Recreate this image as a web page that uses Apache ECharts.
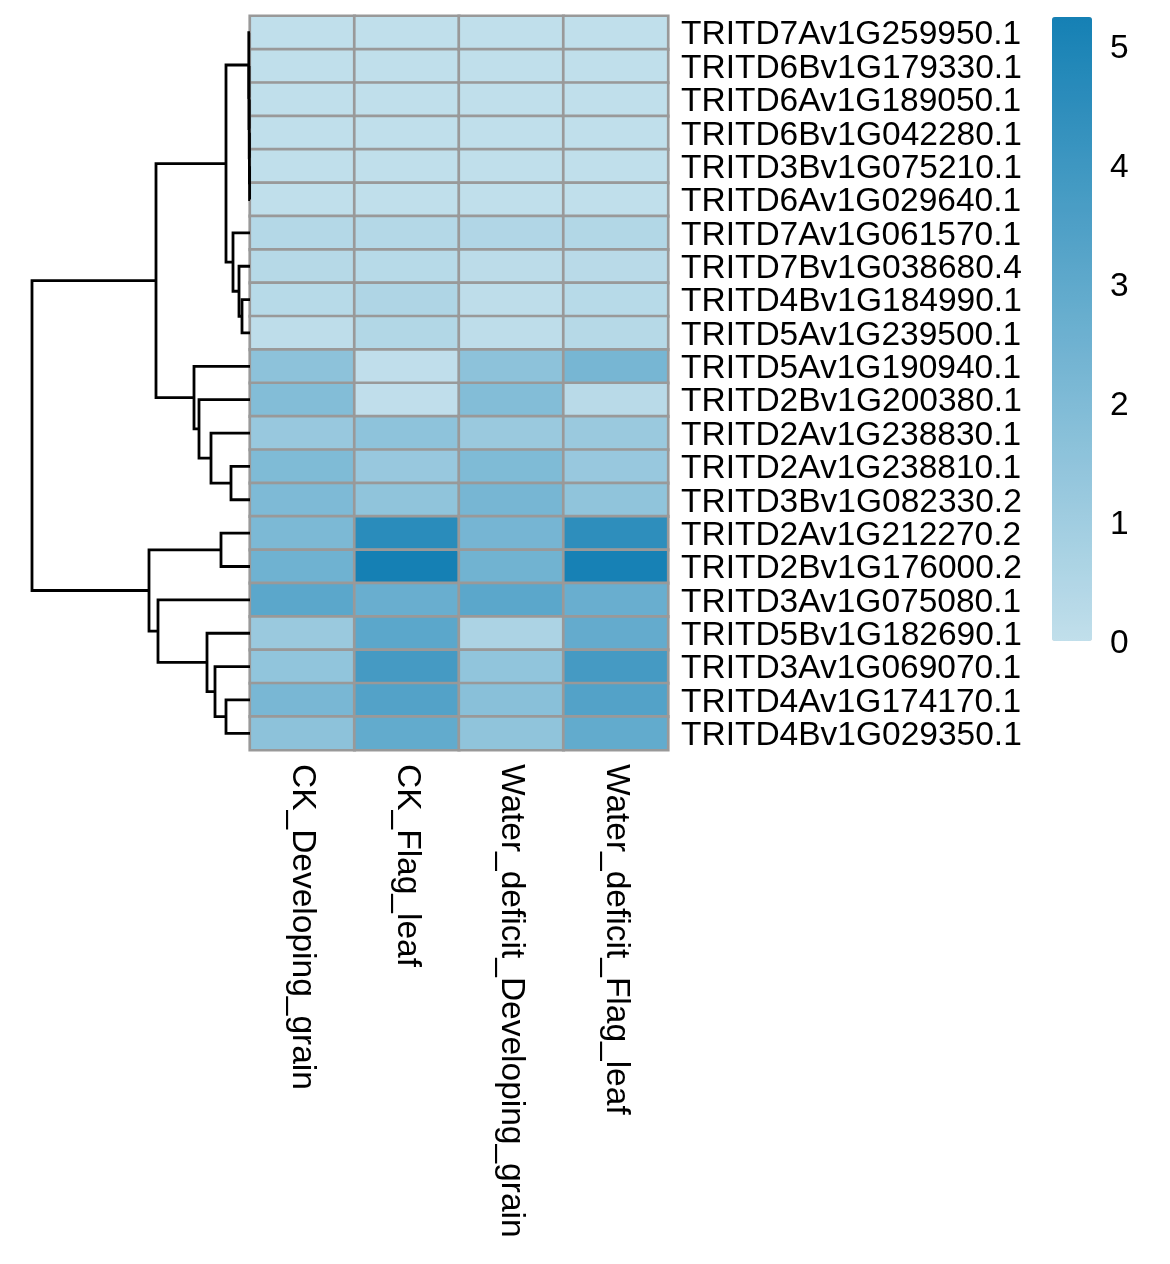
<!DOCTYPE html>
<html>
<head>
<meta charset="utf-8">
<script src="https://cdn.jsdelivr.net/npm/echarts@6/dist/echarts.min.js"></script>
<style>
html,body{margin:0;padding:0;background:#fff;}
#chart{width:1170px;height:1264px;}
</style>
</head>
<body>
<div id="chart"></div>
<script>
// ---------- data ----------
const rowNames = [
  'TRITD7Av1G259950.1','TRITD6Bv1G179330.1','TRITD6Av1G189050.1','TRITD6Bv1G042280.1',
  'TRITD3Bv1G075210.1','TRITD6Av1G029640.1','TRITD7Av1G061570.1','TRITD7Bv1G038680.4',
  'TRITD4Bv1G184990.1','TRITD5Av1G239500.1','TRITD5Av1G190940.1','TRITD2Bv1G200380.1',
  'TRITD2Av1G238830.1','TRITD2Av1G238810.1','TRITD3Bv1G082330.2','TRITD2Av1G212270.2',
  'TRITD2Bv1G176000.2','TRITD3Av1G075080.1','TRITD5Bv1G182690.1','TRITD3Av1G069070.1',
  'TRITD4Av1G174170.1','TRITD4Bv1G029350.1'
];
const colNames = ['CK_Developing_grain','CK_Flag_leaf','Water_deficit_Developing_grain','Water_deficit_Flag_leaf'];

const ckGrain = [0.02,0.02,0.02,0.02,0.02,0.02,0.40,0.35,0.30,0.10,1.60,1.90,1.25,2.00,2.05,2.10,2.50,3.10,1.20,1.45,2.20,1.60];
const ckLeaf  = [0.02,0.02,0.02,0.02,0.02,0.02,0.40,0.30,0.55,0.45,0.03,0.03,1.55,1.25,1.50,4.60,5.25,2.70,3.10,3.80,3.35,2.90];
const wdGrain = [0.02,0.02,0.02,0.02,0.02,0.02,0.50,0.15,0.10,0.10,1.60,1.90,1.20,2.00,2.25,2.30,2.45,3.10,0.65,1.45,1.70,1.50];
const wdLeaf  = [0.02,0.02,0.02,0.02,0.02,0.02,0.45,0.25,0.30,0.35,2.25,0.25,1.20,1.25,1.50,4.50,5.20,2.70,2.85,3.80,3.35,2.90];

// hierarchical clustering merges: [childA, childB, height]; negative = leaf (row index + 1), positive = merge number (1-based)
const merges = [
  [-5, -6, 0.02],
  [-4, 1, 0.03],
  [-3, 2, 0.04],
  [-2, 3, 0.05],
  [-1, 4, 0.06],
  [-9, -10, 0.40],
  [-8, 6, 0.55],
  [-7, 7, 0.85],
  [5, 8, 1.20],
  [-14, -15, 0.95],
  [-13, 10, 1.95],
  [-12, 11, 2.55],
  [-11, 12, 2.80],
  [9, 13, 4.70],
  [-16, -17, 1.45],
  [-21, -22, 1.20],
  [-20, 16, 1.75],
  [-19, 17, 2.15],
  [-18, 18, 4.60],
  [15, 19, 5.05],
  [14, 20, 10.90]
];

const legendTicks = [0, 1, 2, 3, 4, 5];
const valueMin = 0, valueMax = 5.25;
const lowColor = '#c1dfeb', highColor = '#1580b4';

// ---------- build ----------
const cols = [ckGrain, ckLeaf, wdGrain, wdLeaf];
const heatData = [];
cols.forEach((arr, c) => arr.forEach((v, r) => heatData.push([c, r, v])));

const nodeY = [], nodeH = [];
function childInfo(id) {
  if (id < 0) return { y: (-id - 1) + 0.5, h: 0 };
  return { y: nodeY[id - 1], h: nodeH[id - 1] };
}
const dendroData = [];
merges.forEach((m, i) => {
  const a = childInfo(m[0]), b = childInfo(m[1]);
  nodeY[i] = (a.y + b.y) / 2;
  nodeH[i] = m[2];
  dendroData.push([a.h, a.y, m[2], b.y, b.h]);
});

const FONT = 'Liberation Sans';
const FS = 33.5;
const L = 250, T = 16, W = 418, H = 734;
const LBL_SHIFT = 2.5; // glyph centring offset

const chart = echarts.init(document.getElementById('chart'), null, { renderer: 'canvas' });
chart.setOption({
  animation: false,
  backgroundColor: '#fff',
  grid: [
    { left: L, top: T, width: W, height: H },
    { left: 32, top: T, width: L - 32, height: H },
    { left: 1052, top: 17, width: 40, height: 624 },
    { left: L, top: T + LBL_SHIFT, width: W, height: H },
    { left: 1052, top: 17 + LBL_SHIFT, width: 40, height: 624 }
  ],
  xAxis: [
    { gridIndex: 0, type: 'category', data: colNames, position: 'bottom',
      axisLine: { show: false }, axisTick: { show: false },
      axisLabel: { rotate: -90, margin: 14, fontSize: FS, fontFamily: FONT, color: '#000', interval: 0 } },
    { gridIndex: 1, type: 'value', min: 0, max: 10.9, inverse: true, show: false },
    { gridIndex: 2, type: 'value', min: 0, max: 1, show: false },
    { gridIndex: 3, type: 'value', min: 0, max: 1, show: false },
    { gridIndex: 4, type: 'value', min: 0, max: 1, show: false }
  ],
  yAxis: [
    { gridIndex: 0, type: 'category', data: rowNames, inverse: true, show: false },
    { gridIndex: 1, type: 'value', min: 0, max: rowNames.length, inverse: true, show: false },
    { gridIndex: 2, type: 'value', min: valueMin, max: valueMax, show: false },
    { gridIndex: 3, type: 'category', data: rowNames, inverse: true, position: 'right',
      axisLine: { show: false }, axisTick: { show: false }, splitLine: { show: false },
      axisLabel: { margin: 13, fontSize: FS, fontFamily: FONT, color: '#000', interval: 0 } },
    { gridIndex: 4, type: 'value', min: valueMin, max: valueMax, interval: 1, position: 'right',
      axisLine: { show: false }, axisTick: { show: false }, splitLine: { show: false },
      axisLabel: { margin: 18, fontSize: FS, fontFamily: FONT, color: '#000',
        customValues: legendTicks } }
  ],
  visualMap: {
    type: 'continuous', min: valueMin, max: valueMax, seriesIndex: 0,
    calculable: false, hoverLink: false, padding: 0,
    left: 1052, top: 17, itemWidth: 40, itemHeight: 624,
    inRange: { color: [lowColor, highColor] },
    text: null, showLabel: false
  },
  series: [
    { type: 'heatmap', xAxisIndex: 0, yAxisIndex: 0, data: heatData,
      itemStyle: { borderColor: '#999999', borderWidth: 2.7 },
      emphasis: { disabled: true } },
    { type: 'custom', xAxisIndex: 1, yAxisIndex: 1, data: dendroData,
      renderItem: function (params, api) {
        const p = [
          api.coord([api.value(0), api.value(1)]),
          api.coord([api.value(2), api.value(1)]),
          api.coord([api.value(2), api.value(3)]),
          api.coord([api.value(4), api.value(3)])
        ];
        return { type: 'polyline', shape: { points: p },
          style: { stroke: '#000', lineWidth: 2.8, fill: null } };
      },
      silent: true, clip: false }
  ]
});
</script>
</body>
</html>
